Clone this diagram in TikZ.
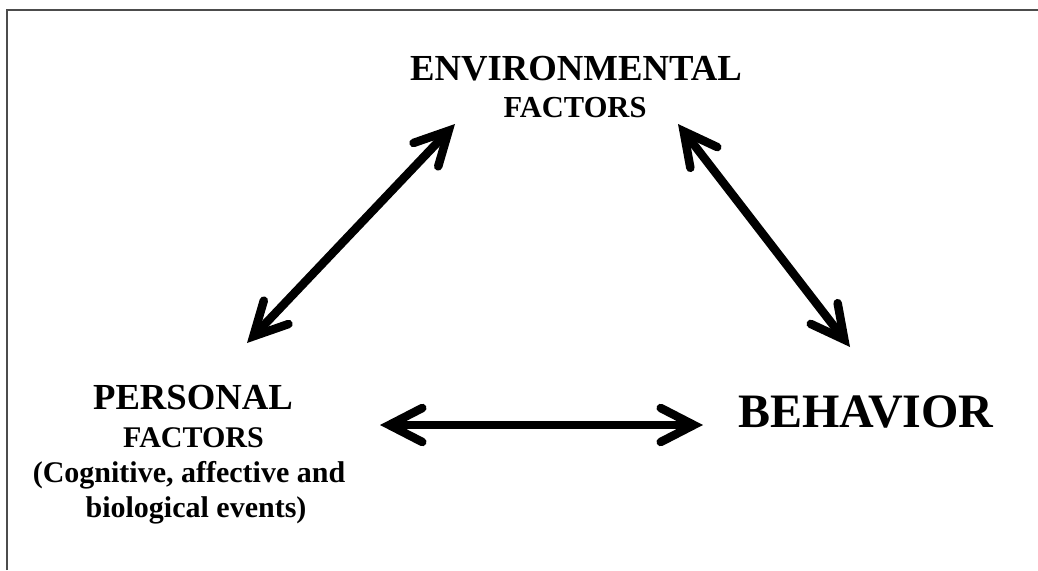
\documentclass[tikz,border=0pt]{standalone}
\usepackage{fontspec}
\setmainfont{Liberation Serif}
\usetikzlibrary{arrows.meta}
\tikzset{head/.tip={Straight Barb[length=33pt,width=34pt,line cap=round,line join=miter]}}
\begin{document}
\begin{tikzpicture}[x=1pt,y=-1pt,
  lbl/.style={anchor=base,inner sep=0pt,font=\bfseries},
  link/.style={line width=8.5pt,{head}-{head}},
  frame/.style={line width=1.3pt,black!70}]
\useasboundingbox (0,0) rectangle (1038,570);
% open frame: top and left edges only
\draw[frame] (7,570) -- (7,10) -- (1038,10);

% labels
\node[lbl,font=\bfseries\fontsize{36.7}{40}\selectfont] (envA) at (576,80) {ENVIRONMENTAL};
\node[lbl,font=\bfseries\fontsize{30.5}{34}\selectfont] (envB) at (575,117) {FACTORS};
\node[lbl,font=\bfseries\fontsize{36.7}{40}\selectfont] (perA) at (193,409) {PERSONAL};
\node[lbl,font=\bfseries\fontsize{30}{34}\selectfont] (perB) at (193.5,447) {FACTORS};
\node[lbl,font=\bfseries\fontsize{30}{34}\selectfont] (perC) at (189,482) {(Cognitive, affective and};
\node[lbl,font=\bfseries\fontsize{30}{34}\selectfont] (perD) at (196,517) {biological events)};
\node[lbl,font=\bfseries\fontsize{48}{52}\selectfont] (beh) at (866,427) {BEHAVIOR};

% arrow end points beside the labels
\coordinate (envL) at (455,124);
\coordinate (envR) at (678,124);
\coordinate (perT) at (247,343);
\coordinate (perR) at (380,425);
\coordinate (behT) at (850,347);
\coordinate (behL) at (703,425);

% reciprocal influences
\draw[link] (perT) -- (envL);
\draw[link] (envR) -- (behT);
\draw[link] (perR) -- (behL);
\end{tikzpicture}
\end{document}
